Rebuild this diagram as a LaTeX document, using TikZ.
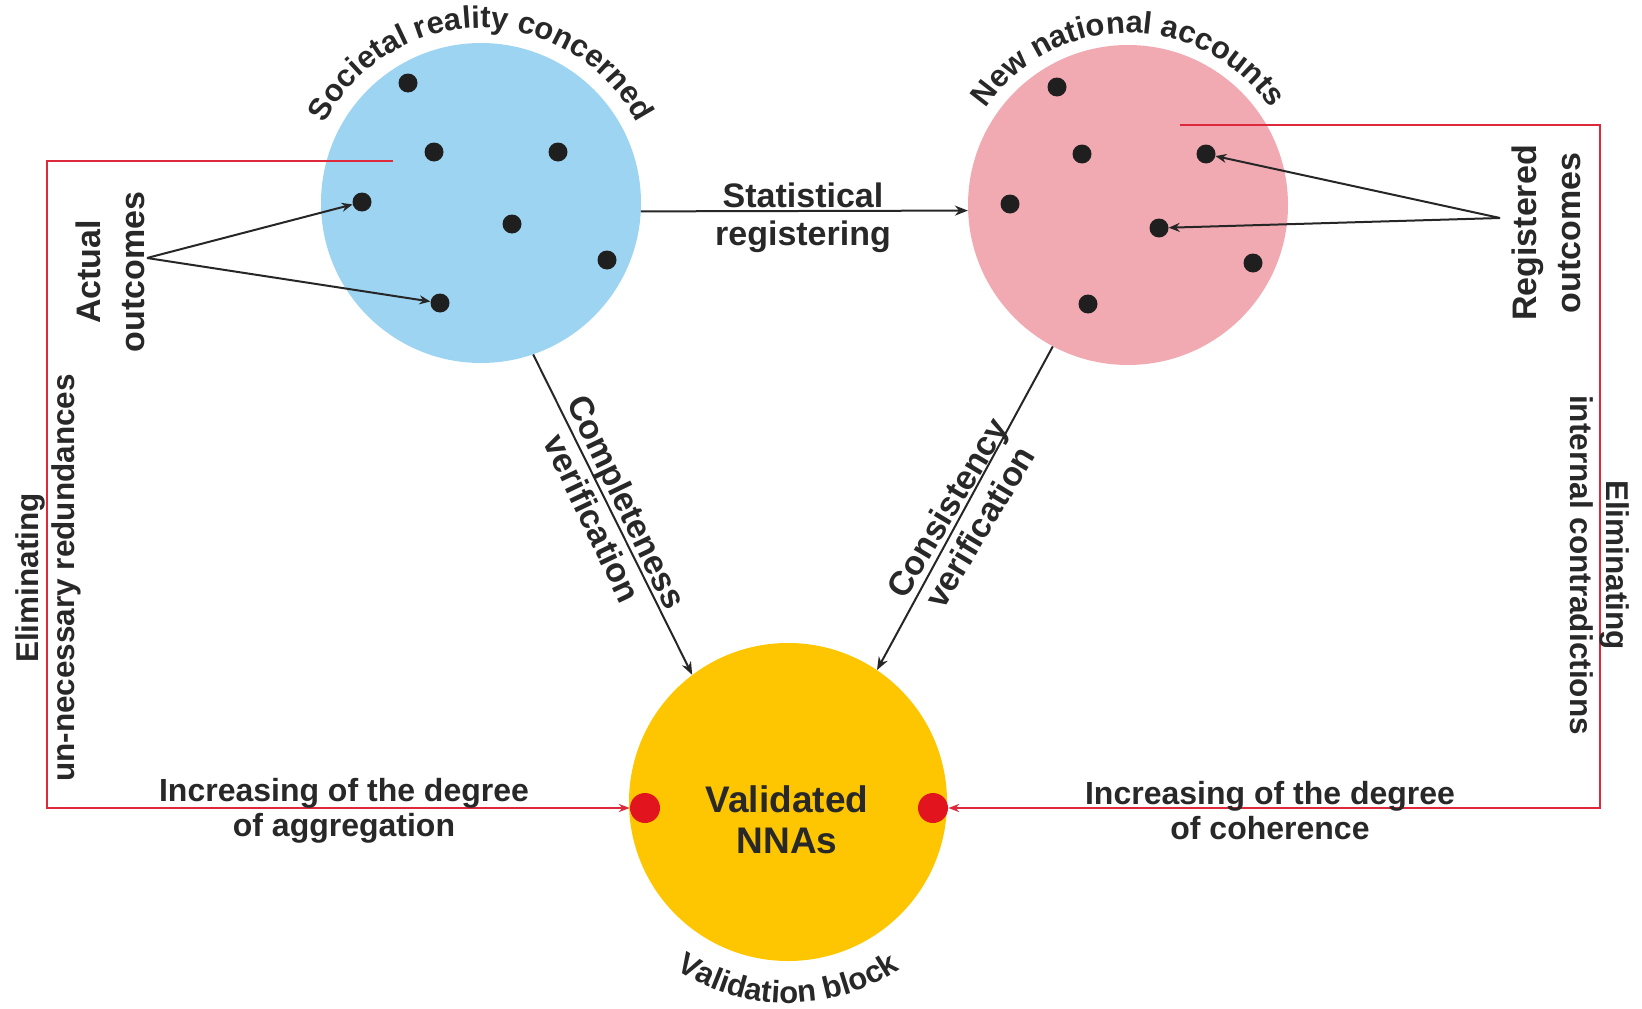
\documentclass[tikz,border=0pt]{standalone}
\usepackage{fontspec}
\setmainfont{Liberation Sans}
\usetikzlibrary{arrows.meta,decorations.text,calc}
\definecolor{cblue}{RGB}{156,212,242}
\definecolor{cpink}{RGB}{242,170,178}
\definecolor{cyel}{RGB}{254,198,0}
\definecolor{cred}{RGB}{222,40,60}
\definecolor{cdot}{RGB}{226,20,30}
\definecolor{ctxt}{RGB}{40,40,40}
\newcommand\arcfont{\fontsize{31}{31}\selectfont\bfseries}
\begin{document}
\begin{tikzpicture}[x=1pt,y=-1pt,
  big/.style={circle, minimum size=320pt, inner sep=0pt, draw=none},
  bdot/.style={circle, fill=black!88, minimum size=19pt, inner sep=0pt},
  rdot/.style={circle, fill=cdot, minimum size=30pt, inner sep=0pt},
  arr/.style={draw=black!85, line width=2pt, -{Stealth[length=13pt,width=10pt]}},
  sarr/.style={draw=black!85, line width=2pt, -{Stealth[length=11pt,width=9pt]}},
  redln/.style={draw=cred, line width=2.2pt},
  redarr/.style={redln, -{Stealth[length=11pt,width=8pt]}},
  lbl/.style={text=ctxt, font=\fontsize{34}{38}\selectfont\bfseries, align=center, inner sep=0pt},
  lblw/.style={text=ctxt, font=\fontsize{34}{44}\selectfont\bfseries, align=center, inner sep=0pt},
  lblr/.style={text=ctxt, font=\fontsize{31.5}{36}\selectfont\bfseries, align=center, inner sep=0pt},
  lbls/.style={text=ctxt, font=\fontsize{32}{35}\selectfont\bfseries, align=center, inner sep=0pt},
  arctext/.style={decorate, decoration={text along path, text={|\arcfont|#1}, text align=center, text color=ctxt}}
]
\useasboundingbox (0,0) rectangle (1642,1009);

% main circles
\node[big, fill=cblue] (soc) at (481,203) {};
\node[big, fill=cpink] (nna) at (1128,205) {};
\node[big, fill=cyel, minimum size=318pt] (val) at (788,802) {};

% dots in societal reality
\node[bdot] (s1) at (408,83) {};
\node[bdot] (s2) at (434,152) {};
\node[bdot] (s3) at (558,152) {};
\node[bdot] (s4) at (362,202) {};
\node[bdot] (s5) at (512,224) {};
\node[bdot] (s6) at (607,260) {};
\node[bdot] (s7) at (440,303) {};
% dots in new national accounts
\node[bdot] (n1) at (1057,87) {};
\node[bdot] (n2) at (1082,154) {};
\node[bdot] (n3) at (1206,154) {};
\node[bdot] (n4) at (1010,204) {};
\node[bdot] (n5) at (1159,228) {};
\node[bdot] (n6) at (1253,263) {};
\node[bdot] (n7) at (1088,304) {};

% red dots
\node[rdot] (rdl) at (645,808) {};
\node[rdot] (rdr) at (933,808) {};

% arc titles
\path[arctext={Societal reality concerned}] ($(soc)+(180:175)$) arc[start angle=180, end angle=360, radius=175];
\path[arctext={New national accounts}] ($(nna)+(180:172)$) arc[start angle=180, end angle=360, radius=172];
\path[arctext={Validation block}] ($(val)+(180:201)$) arc[start angle=180, end angle=0, radius=201];

% red feedback frames
\coordinate (la) at (393,161);
\coordinate (lb) at (47,161);
\coordinate (lc) at (47,808);
\draw[redarr] (la) -- (lb) -- (lc) -- (rdl);
\coordinate (ra) at (1180,125);
\coordinate (rb) at (1600,125);
\coordinate (rc) at (1600,808);
\draw[redarr] (ra) -- (rb) -- (rc) -- (rdr);

% main arrows
\draw[arr] (soc.-3) -- (nna.182);
\draw[arr] (soc.-71) -- (val.127);
\draw[arr] (nna.-118) -- (val.56);

% pointer arrows
\coordinate (apa) at (147,258);
\draw[sarr] (apa) -- (s4);
\draw[sarr] (apa) -- (s7);
\coordinate (apr) at (1500,218);
\draw[sarr] (apr) -- (n3);
\draw[sarr] (apr) -- (n5);

% labels
\node[lbl] (tstat) at (803,218) {Statistical\\registering};
\node[lbl, rotate=-64.5] (tcomp) at (610,510) {Completeness\\verification};
\node[lbl, rotate=59] (tcons) at (963,517) {Consistency\\verification};
\node[lblw, rotate=90] (tact) at (110,272) {Actual\\outcomes};
\node[lblw, rotate=90] (treg) at (1546,233) {Registered\\outcomes};
\node[lblr, rotate=90] (telr) at (48,578) {Eliminating\\un-necessary redundances};
\node[lblr, rotate=-90] (telc) at (1600,565) {Eliminating\\internal contradictions};
\node[lbls] (tagg) at (344,811) {Increasing of the degree\\of aggregation};
\node[lbls] (tcoh) at (1270,811) {Increasing of the degree\\of coherence};
\node[text=ctxt, font=\fontsize{37}{41}\selectfont\bfseries, align=center, inner sep=0pt] (tval) at (787,820) {Validated\\NNAs};
\end{tikzpicture}
\end{document}
